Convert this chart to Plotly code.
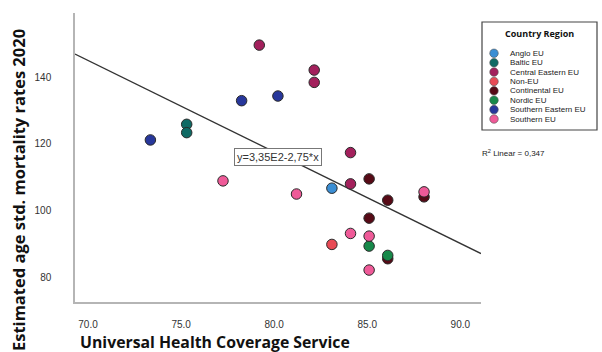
import plotly.graph_objects as go

regions = ["Anglo EU", "Baltic EU", "Central Eastern EU", "Non-EU",
           "Continental EU", "Nordic EU", "Southern Eastern EU", "Southern EU"]
colors = ["#3b8ed4", "#0f6a64", "#a3205c", "#e84a55",
          "#560a16", "#17894a", "#27379b", "#ef5a98"]

uhc = {
    "Anglo EU": [83.1],
    "Baltic EU": [75.3, 75.3],
    "Central Eastern EU": [79.2, 82.15, 82.15, 84.1, 84.1],
    "Non-EU": [83.1],
    "Continental EU": [85.1, 86.1, 88.05, 85.1, 86.1],
    "Nordic EU": [85.1, 86.1],
    "Southern Eastern EU": [78.25, 80.2, 73.35],
    "Southern EU": [77.25, 81.2, 88.05, 84.1, 85.1, 85.1],
}
mortality = {
    "Anglo EU": [106.7],
    "Baltic EU": [125.9, 123.4],
    "Central Eastern EU": [149.7, 142.2, 138.5, 117.4, 108.0],
    "Non-EU": [89.8],
    "Continental EU": [109.5, 103.1, 104.1, 97.7, 85.5],
    "Nordic EU": [89.3, 86.5],
    "Southern Eastern EU": [133.0, 134.4, 121.2],
    "Southern EU": [108.9, 104.95, 105.6, 93.1, 92.3, 82.1],
}

x_range = [69.3, 91.11]
y_range = [72.5, 159.35]
x_ticks = [70, 75, 80, 85, 90]
y_ticks = [80, 100, 120, 140]
fit_intercept = 337.6
fit_slope = -2.75
eq_text = "y=3,35E2-2,75*x"
r2_text = "R<sup>2</sup> Linear = 0,347"

fig = go.Figure()

# fit line
fig.add_trace(go.Scatter(
    x=x_range, y=[fit_intercept + fit_slope * v for v in x_range],
    mode="lines", line=dict(color="#333333", width=1.3),
    showlegend=False, hoverinfo="skip", cliponaxis=True))

for reg, col in zip(regions, colors):
    fig.add_trace(go.Scatter(
        x=uhc[reg], y=mortality[reg], mode="markers", name=reg,
        marker=dict(size=10.5, color=col, line=dict(color="#2a2a2a", width=1)),
        showlegend=False))

# custom legend on its own small axes
fig.add_trace(go.Scatter(
    x=[12] * len(regions), y=list(range(len(regions))), mode="markers",
    marker=dict(size=8.5, color=colors, line=dict(color="#555555", width=0.6)),
    xaxis="x2", yaxis="y2", showlegend=False, hoverinfo="skip"))

annotations = []
for i, reg in enumerate(regions):
    annotations.append(dict(
        x=26, y=i, xref="x2", yref="y2", text=reg, showarrow=False,
        xanchor="left", yanchor="middle",
        font=dict(family="Liberation Sans, Arial", size=8, color="#222222")))
annotations.append(dict(
    x=57, y=-2.06, xref="x2", yref="y2", text="<b>Country Region</b>",
    showarrow=False, xanchor="center", yanchor="middle",
    font=dict(family="Open Sans, Liberation Sans", size=9, color="#111111")))

annotations.append(dict(
    x=80.23, y=116.1, xref="x", yref="y", text=eq_text, showarrow=False,
    bgcolor="white", bordercolor="#777777", borderwidth=1, borderpad=2,
    font=dict(family="Liberation Sans, Arial", size=11, color="#333333")))
annotations.append(dict(
    x=(480 - 75) / 522, y=1 - (153 - 13) / 289, xref="paper", yref="paper",
    text=r2_text, showarrow=False, xanchor="left", yanchor="middle",
    font=dict(family="Liberation Sans, Arial", size=8, color="#222222")))

annotations.append(dict(
    x=(215 - 75) / 522, y=1 - (342 - 13) / 289, xref="paper", yref="paper",
    text="<b>Universal Health Coverage Service</b>", showarrow=False,
    xanchor="center", yanchor="middle",
    font=dict(family="Open Sans, Liberation Sans", size=15.8, color="#111111")))
annotations.append(dict(
    x=(19 - 75) / 522, y=1 - (190 - 13) / 289, xref="paper", yref="paper",
    text="<b>Estimated age std. mortality rates 2020</b>", showarrow=False,
    textangle=-90, xanchor="center", yanchor="middle",
    font=dict(family="Open Sans, Liberation Sans", size=16.5, color="#111111")))

shapes = [dict(type="rect", xref="paper", yref="paper",
               x0=(482 - 75) / 522, x1=(597 - 75) / 522,
               y0=1 - (130 - 13) / 289, y1=1 - (22 - 13) / 289,
               line=dict(color="#444444", width=1.2), fillcolor="rgba(0,0,0,0)")]

fig.update_layout(
    width=602, height=352,
    margin=dict(l=75, r=5, t=13, b=50),
    paper_bgcolor="white", plot_bgcolor="white",
    xaxis=dict(domain=[0, 406 / 522], range=x_range, tickvals=x_ticks,
               tickformat=".1f", showgrid=False, zeroline=False,
               showline=True, linecolor="#b5b5b5", linewidth=1.5,
               ticks="", ticklabelstandoff=12,
               tickfont=dict(family="Liberation Sans, Arial", size=10, color="#333333")),
    yaxis=dict(range=y_range, tickvals=y_ticks, showgrid=False, zeroline=False,
               showline=True, linecolor="#b5b5b5", linewidth=1.5,
               ticks="", ticklabelstandoff=20,
               tickfont=dict(family="Liberation Sans, Arial", size=10, color="#333333")),
    xaxis2=dict(domain=[(482 - 75) / 522, (597 - 75) / 522], range=[0, 115],
                visible=False, fixedrange=True),
    yaxis2=dict(domain=[1 - (130 - 13) / 289, 1 - (22 - 13) / 289],
                range=[8.17, -3.33], visible=False, fixedrange=True),
    annotations=annotations, shapes=shapes,
)

fig.write_html("out.html", config={"displayModeBar": False},
               post_script="document.body.style.margin='0';document.body.style.overflow='hidden';")
